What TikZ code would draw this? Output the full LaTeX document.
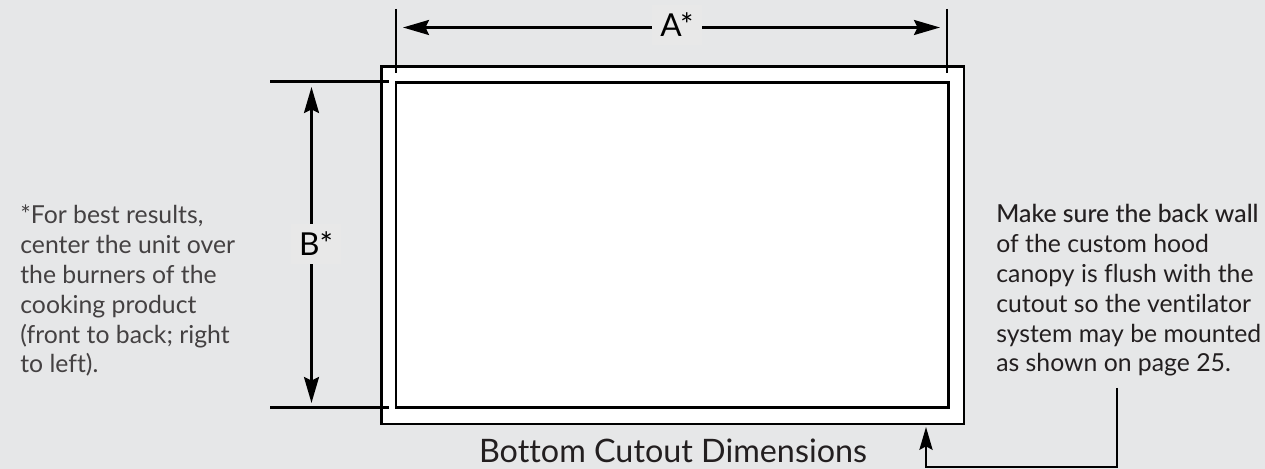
\documentclass[tikz,border=0pt]{standalone}
\usepackage{fontspec}
\setmainfont[Ligatures=NoCommon]{Lato}
\usetikzlibrary{arrows.meta}
\definecolor{panel}{HTML}{E6E7E8}
\definecolor{labelbg}{HTML}{E8E8E8}
\definecolor{inktext}{HTML}{231F20}
\tikzset{
	dimline/.style={line width=1.6pt,black},
	dimarrow/.style={line width=1.6pt,black,{Stealth[length=14.8pt,width=8.5pt,inset=2pt]}-{Stealth[length=14.8pt,width=8.5pt,inset=2pt]}},
	dimlabel/.style={fill=labelbg,inner sep=0pt,minimum width=28pt,minimum height=23pt,font=\fontsize{18}{20}\selectfont,text=black},
	note/.style={anchor=base west,align=left,inner sep=0pt,font=\fontsize{14.1}{17}\selectfont},
}
\begin{document}
\begin{tikzpicture}[x=0.02cm,y=-0.02cm]
	\useasboundingbox (0,0) rectangle (1265,469);
	\fill[panel] (0,0) rectangle (1265,469);
	%cutout
	\draw[line width=1.6pt,fill=white] (381.5,66.5) rectangle (964,424);
	\draw[line width=1.6pt] (396,82.5) rectangle (948.5,407.5);
	%extension lines
	\coordinate (leftTop) at (396,9);
	\coordinate (leftEnd) at (396,73);
	\coordinate (rightTop) at (947,9);
	\coordinate (rightEnd) at (947,73);
	\coordinate (upperFar) at (270,81.5);
	\coordinate (upperEnd) at (389,81.5);
	\coordinate (lowerFar) at (270,407.5);
	\coordinate (lowerEnd) at (389,407.5);
	\draw[dimline] (leftTop) -- (leftEnd);
	\draw[dimline] (rightTop) -- (rightEnd);
	\draw[dimline] (upperFar) -- (upperEnd);
	\draw[dimline] (lowerFar) -- (lowerEnd);
	%dimensions
	\coordinate (widthL) at (403,27.5);
	\coordinate (widthR) at (940,27.5);
	\coordinate (heightT) at (311.5,87);
	\coordinate (heightB) at (311.5,403);
	\draw[dimarrow] (widthL) -- (widthR);
	\draw[dimarrow] (heightT) -- (heightB);
	\node[dimlabel] (labelA) at (677,25) {A*};
	\node[dimlabel] (labelB) at (316,244) {B*};
	%texts
	\node[note,text=inktext!85] (noteLeft) at (20,373) {*For best results,\\center the unit over\\the burners of the\\cooking product\\(front to back; right\\to left).};
	\node[note,text=inktext] (noteRight) at (996,372) {\fontspec[Ligatures=NoCommon]{Lato Medium}Make sure the back wall\\of the custom hood\\canopy is flush with the\\cutout so the ventilator\\system may be mounted\\as shown on page 25.};
	\node[anchor=base,inner sep=0pt,font=\fontsize{18.4}{20}\selectfont,text=inktext] (title) at (673,463) {Bottom Cutout Dimensions};
	%pointer
	\coordinate (pointerTop) at (1117,388);
	\coordinate (pointerTip) at (926,427);
	\draw[line width=1.2pt,-{Stealth[length=13pt,width=7.5pt,inset=2pt]}] (pointerTop) -- (1117,467) -| (pointerTip);
\end{tikzpicture}
\end{document}
